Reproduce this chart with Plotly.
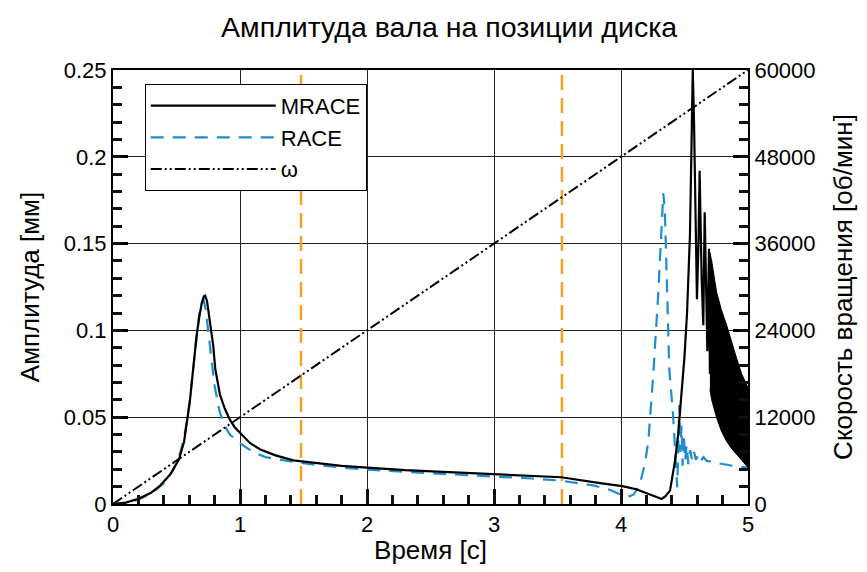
import plotly.graph_objects as go

# --- MRACE amplitude [mm] vs time [s] ---
mrace_t = [0, 0.1, 0.2, 0.3, 0.37, 0.45, 0.52, 0.56, 0.605, 0.63, 0.658, 0.68, 0.70,
           0.715, 0.726, 0.74, 0.76, 0.789, 0.805, 0.842, 0.88, 0.92, 0.96, 1.0, 1.08,
           1.16, 1.28, 1.42, 1.6, 1.8, 2.0, 2.3, 2.6, 3.0, 3.3, 3.53, 3.835, 4.01, 4.12,
           4.23, 4.29, 4.32, 4.35, 4.386, 4.425, 4.45, 4.48, 4.50, 4.52, 4.543, 4.556,
           4.565, 4.575, 4.588, 4.598, 4.61, 4.619, 4.635, 4.648, 4.659, 4.672, 4.68,
           4.693, 4.70]
mrace_a = [0, 0.0008, 0.003, 0.0065, 0.0105, 0.017, 0.0257, 0.036, 0.059, 0.077, 0.097,
           0.108, 0.116, 0.1195, 0.120, 0.117, 0.107, 0.0914, 0.078, 0.063, 0.055, 0.0486,
           0.044, 0.041, 0.035, 0.0314, 0.028, 0.0251, 0.0235, 0.022, 0.021, 0.0195,
           0.0185, 0.0172, 0.0163, 0.0154, 0.012, 0.0103, 0.0085, 0.0057, 0.0038, 0.0029,
           0.0045, 0.0077, 0.0248, 0.040, 0.068, 0.085, 0.11, 0.155, 0.21, 0.25, 0.22,
           0.16, 0.118, 0.15, 0.192, 0.13, 0.103, 0.168, 0.11, 0.088, 0.147, 0.075]

# envelope of the dense MRACE oscillation after the second resonance
band_t = [4.70, 4.714, 4.753, 4.79, 4.832, 4.87, 4.91, 4.95, 5.0]
band_hi = [0.145, 0.140, 0.122, 0.112, 0.103, 0.093, 0.084, 0.075, 0.067]
band_lo = [0.066, 0.060, 0.0497, 0.042, 0.036, 0.032, 0.0286, 0.025, 0.021]

# --- RACE amplitude [mm] vs time [s] ---
race_t = [0, 0.1, 0.2, 0.3, 0.4, 0.47, 0.52, 0.56, 0.6, 0.63, 0.66, 0.68, 0.70, 0.715,
          0.73, 0.75, 0.77, 0.80, 0.84, 0.88, 0.92, 1.0, 1.1, 1.2, 1.4, 1.6, 1.8, 2.0,
          2.3, 2.6, 3.0, 3.3, 3.52, 3.78, 3.9, 4.02, 4.06, 4.1, 4.15, 4.19, 4.215, 4.254,
          4.294, 4.32, 4.333, 4.345, 4.355, 4.37, 4.38, 4.41, 4.433, 4.443, 4.459, 4.468,
          4.477, 4.485, 4.495, 4.505, 4.517, 4.53, 4.545, 4.56, 4.575, 4.59, 4.61, 4.63,
          4.65, 4.675, 4.72, 4.78, 4.88, 5.0]
race_a = [0, 0.0005, 0.0025, 0.006, 0.012, 0.019, 0.027, 0.038, 0.057, 0.078, 0.1, 0.11,
          0.116, 0.117, 0.112, 0.1, 0.085, 0.068, 0.053, 0.045, 0.040, 0.035, 0.030,
          0.027, 0.0245, 0.0225, 0.021, 0.0198, 0.0185, 0.0172, 0.0158, 0.0147, 0.0135,
          0.0107, 0.0085, 0.0048, 0.0042, 0.0055, 0.0116, 0.024, 0.036, 0.0745, 0.122,
          0.16, 0.179, 0.17, 0.14, 0.1, 0.078, 0.0514, 0.0267, 0.0096, 0.057, 0.03, 0.045,
          0.022, 0.04, 0.025, 0.034, 0.023, 0.031, 0.025, 0.03, 0.0255, 0.0285, 0.025,
          0.027, 0.0248, 0.0245, 0.0233, 0.022, 0.021]

# --- rotational speed ramp [rpm] ---
omega_t = [0, 5]
omega_rpm = [0, 60000]

# marker times (vertical dashed lines)
mark_t = [1.48, 3.535]

FONT = "Liberation Sans, Arial, Helvetica, sans-serif"
BLACK = "black"
BLUE = "#1f8bd0"
ORANGE = "#f5a31f"

fig = go.Figure()

for t in mark_t:
    fig.add_trace(go.Scatter(x=[t, t], y=[0, 0.25], mode="lines", showlegend=False,
                             line=dict(color=ORANGE, width=2.5, dash="15px,8px"),
                             hoverinfo="skip"))

fig.add_trace(go.Scatter(x=race_t, y=race_a, mode="lines", name="RACE", legendrank=2,
                         line=dict(color=BLUE, width=2.2, dash="13px,9px")))

fig.add_trace(go.Scatter(x=band_t + band_t[::-1], y=band_hi + band_lo[::-1],
                         mode="lines", fill="toself", fillcolor=BLACK, showlegend=False,
                         line=dict(color=BLACK, width=1), hoverinfo="skip"))

fig.add_trace(go.Scatter(x=mrace_t, y=mrace_a, mode="lines", name="MRACE", legendrank=1,
                         line=dict(color=BLACK, width=2.2)))

fig.add_trace(go.Scatter(x=omega_t, y=omega_rpm, mode="lines", name="ω", legendrank=3,
                         yaxis="y2",
                         line=dict(color=BLACK, width=2,
                                   dash="11px,3px,2px,3px,2px,3px")))

# empty traces that register the minor-tick axes
fig.add_trace(go.Scatter(x=[], y=[], xaxis="x2", yaxis="y3", showlegend=False,
                         hoverinfo="skip"))
fig.add_trace(go.Scatter(x=[], y=[], xaxis="x2", yaxis="y4", showlegend=False,
                         hoverinfo="skip"))

axis_common = dict(ticks="inside", tickwidth=2.5, ticklen=15, tickcolor=BLACK,
                   showline=True, linecolor=BLACK, linewidth=2, zeroline=False,
                   tickfont=dict(size=22, color=BLACK, family=FONT))
minor_axis = dict(ticks="inside", ticklen=9, tickwidth=2.5, tickcolor="#111111",
                  showticklabels=False, showgrid=False, showline=False, zeroline=False,
                  tick0=0, fixedrange=True, layer="above traces")

fig.update_layout(
    width=867, height=572,
    margin=dict(l=113, r=119, t=70, b=65),
    paper_bgcolor="white", plot_bgcolor="white",
    font=dict(family=FONT, color=BLACK),
    title=dict(text="Амплитуда вала на позиции диска", font=dict(size=28.5, color=BLACK),
               x=0.518, xanchor="center", y=0.952, yanchor="middle"),
    xaxis=dict(range=[0, 5], tick0=0, dtick=1, mirror=True,
               showgrid=True, gridcolor="#222222", gridwidth=1,
               title=dict(text="Время [с]", font=dict(size=26, color=BLACK), standoff=4),
               **axis_common),
    yaxis=dict(range=[0, 0.25], tick0=0, dtick=0.05,
               showgrid=True, gridcolor="#222222", gridwidth=1,
               title=dict(text="Амплитуда [мм]", font=dict(size=26, color=BLACK), standoff=17),
               **axis_common),
    yaxis2=dict(range=[0, 60000], tick0=0, dtick=12000, tickformat="d",
                overlaying="y", side="right", showgrid=False,
                title=dict(text="Скорость вращения [об/мин]", font=dict(size=26, color=BLACK),
                           standoff=19),
                **axis_common),
    # minor tick axes
    xaxis2=dict(range=[0, 5], dtick=0.2, overlaying="x", anchor="y", side="bottom",
                **minor_axis),
    yaxis3=dict(range=[0, 0.25], dtick=0.01, overlaying="y", anchor="x", side="left",
                **minor_axis),
    yaxis4=dict(range=[0, 60000], dtick=2400, overlaying="y", anchor="x", side="right",
                **minor_axis),
    legend=dict(x=0.05, y=0.968, xanchor="left", yanchor="top",
                bgcolor="white", bordercolor=BLACK, borderwidth=1,
                font=dict(size=22, color=BLACK, family=FONT),
                itemwidth=125, tracegroupgap=0),
    showlegend=True,
)

fig.write_html("out.html")
